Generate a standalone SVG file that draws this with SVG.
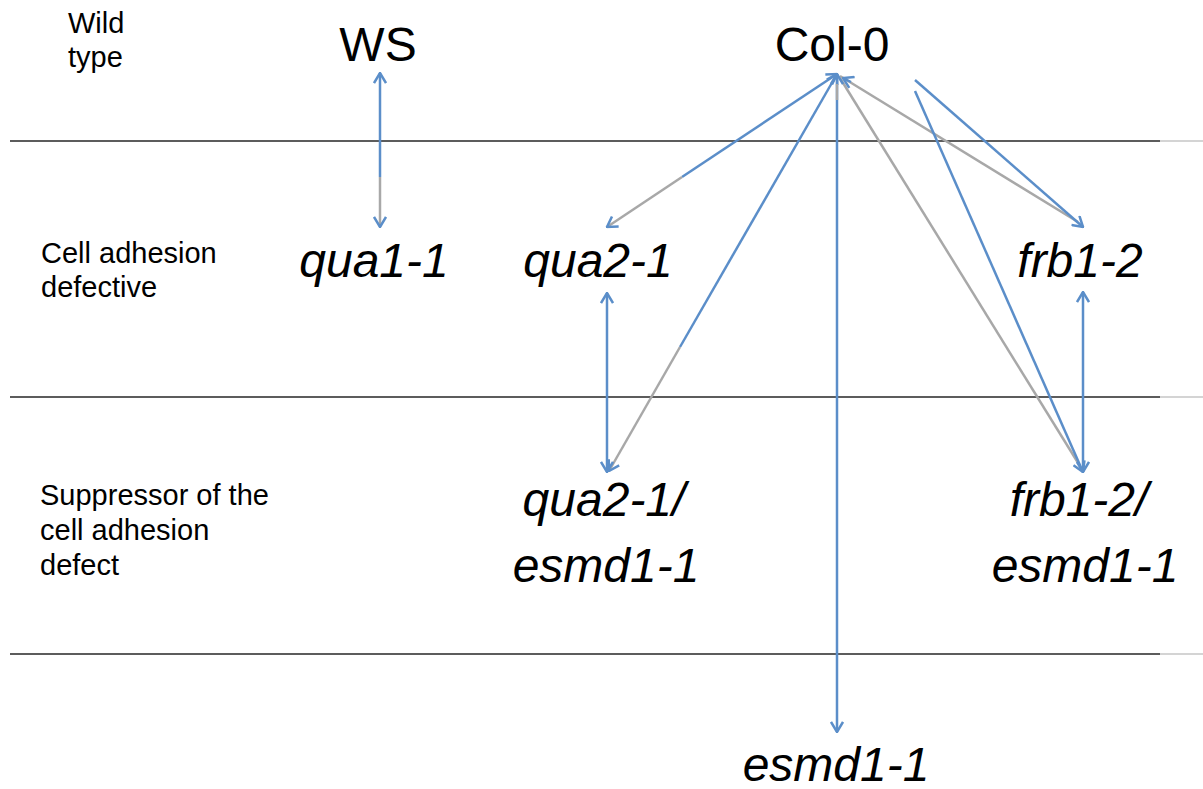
<svg xmlns="http://www.w3.org/2000/svg" width="1203" height="789" viewBox="0 0 1203 789">
<style>
.lbl{font-family:"Liberation Sans",Arial,sans-serif;font-size:29px;fill:#000}
.wt{font-family:"Liberation Sans",Arial,sans-serif;font-size:48px;fill:#000;text-anchor:middle}
.it{font-family:"Liberation Sans",Arial,sans-serif;font-size:48px;font-style:italic;fill:#000;text-anchor:middle}
.sep{stroke:#262626;stroke-width:1.3}
.sepx{stroke:#d4d4d4;stroke-width:2}
.b{stroke:#5b8ec9;stroke-width:2.5;fill:none}
.g{stroke:#a8a8a8;stroke-width:2.5;fill:none}
</style>
<defs>
<marker id="ah" viewBox="0 0 12 14" refX="11" refY="7" markerWidth="12" markerHeight="14" markerUnits="userSpaceOnUse" orient="auto-start-reverse">
<path d="M1,1 L11,7 L1,13" fill="none" stroke="#5b8ec9" stroke-width="2.5"/>
</marker>
</defs>
<g id="separators">
<line class="sep" x1="10" y1="141" x2="1160" y2="141"/>
<line class="sepx" x1="1160" y1="141" x2="1203" y2="141"/>
<line class="sep" x1="10" y1="397" x2="1160" y2="397"/>
<line class="sepx" x1="1160" y1="397" x2="1203" y2="397"/>
<line class="sep" x1="10" y1="654" x2="1160" y2="654"/>
<line class="sepx" x1="1160" y1="654" x2="1203" y2="654"/>
</g>
<g id="row-labels">
<text class="lbl" x="68" y="33">Wild<tspan x="68" y="67">type</tspan></text>
<text class="lbl" x="41" y="263">Cell adhesion<tspan x="41" y="297">defective</tspan></text>
<text class="lbl" x="40" y="505">Suppressor of the<tspan x="40" y="540">cell adhesion</tspan><tspan x="40" y="575">defect</tspan></text>
</g>
<g id="connectors">
<line class="b" x1="380" y1="73" x2="380" y2="177" marker-start="url(#ah)"/>
<line class="g" x1="380" y1="177" x2="380" y2="227" marker-end="url(#ah)"/>
<line class="g" x1="840" y1="76" x2="1078" y2="222"/>
<line class="g" x1="840" y1="78" x2="1080" y2="466"/>
<line class="b" x1="837" y1="74" x2="682" y2="177" marker-start="url(#ah)"/>
<line class="g" x1="682" y1="177" x2="607" y2="227" marker-end="url(#ah)"/>
<line class="b" x1="837" y1="74" x2="680" y2="347" marker-start="url(#ah)"/>
<line class="g" x1="680" y1="347" x2="609" y2="471" marker-end="url(#ah)"/>
<line class="b" x1="607" y1="293" x2="607" y2="472" marker-start="url(#ah)" marker-end="url(#ah)"/>
<line class="b" x1="837" y1="74" x2="837" y2="732" marker-start="url(#ah)" marker-end="url(#ah)"/>
<line class="g" x1="837" y1="84" x2="837" y2="100"/>
<line class="b" x1="915" y1="80" x2="1083" y2="227" marker-end="url(#ah)"/>
<line class="b" x1="915" y1="91" x2="1083" y2="472" marker-end="url(#ah)"/>
<line class="b" x1="1083" y1="292" x2="1083" y2="472" marker-start="url(#ah)" marker-end="url(#ah)"/>
<path d="M843,78 l8,4" class="b" marker-start="url(#ah)"/>
</g>
<g id="node-ws"><text class="wt" x="378" y="61">WS</text></g>
<g id="node-col0"><text class="wt" x="832" y="61">Col-0</text></g>
<g id="node-qua1-1"><text class="it" x="374" y="277">qua1-1</text></g>
<g id="node-qua2-1"><text class="it" x="598" y="277">qua2-1</text></g>
<g id="node-frb1-2"><text class="it" x="1080" y="277">frb1-2</text></g>
<g id="node-qua2-1-esmd1-1"><text class="it" x="604" y="516">qua2-1/<tspan x="606" y="582">esmd1-1</tspan></text></g>
<g id="node-frb1-2-esmd1-1"><text class="it" x="1079" y="516">frb1-2/<tspan x="1085" y="582">esmd1-1</tspan></text></g>
<g id="node-esmd1-1"><text class="it" x="836" y="781">esmd1-1</text></g>
</svg>
